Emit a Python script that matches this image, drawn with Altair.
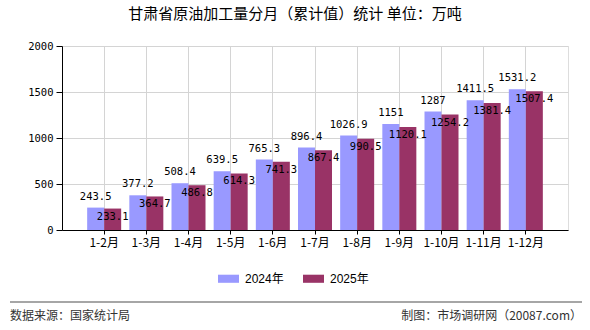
import altair as alt
import pandas as pd

months = ["1-2月", "1-3月", "1-4月", "1-5月", "1-6月", "1-7月", "1-8月", "1-9月", "1-10月", "1-11月", "1-12月"]
v2024 = [243.5, 377.2, 508.4, 639.5, 765.3, 896.4, 1026.9, 1151, 1287, 1411.5, 1531.2]
v2025 = [233.1, 364.7, 486.8, 614.3, 741.3, 867.4, 990.5, 1120.1, 1254.2, 1381.4, 1507.4]
series = ["2024年", "2025年"]
colors = ["#9999FF", "#993366"]
title_text = "甘肃省原油加工量分月（累计值）统计 单位：万吨"
source_text = "数据来源：国家统计局"
credit_text = "制图：市场调研网（20087.com）"


def fmt(v):
    s = f"{v}"
    return s[:-2] if s.endswith(".0") else s


rows = []
for m, a, b in zip(months, v2024, v2025):
    rows.append({"month": m, "series": series[0], "value": a, "label": fmt(a)})
    rows.append({"month": m, "series": series[1], "value": b, "label": fmt(b)})
df = pd.DataFrame(rows)

NUMFONT = "DejaVu Sans Mono"
CJK = "Noto Sans CJK SC"

x_enc = alt.X(
    "month:N",
    sort=months,
    scale=alt.Scale(paddingInner=0, paddingOuter=0.5),
    axis=alt.Axis(
        title=None,
        labelAngle=0,
        bandPosition=0.5,
        grid=True,
        gridColor="#d4d4d4",
        domainColor="#000000",
        tickColor="#000000",
        tickSize=4,
        labelPadding=3,
        labelFont=CJK,
        labelFontSize=12,
        labelColor="#000000",
    ),
)
xoff = alt.XOffset("series:N", sort=series, scale=alt.Scale(paddingInner=0, paddingOuter=0.24))
y_enc = alt.Y(
    "value:Q",
    scale=alt.Scale(domain=[0, 2000], nice=False),
    axis=alt.Axis(
        title=None,
        values=[0, 500, 1000, 1500, 2000],
        format="d",
        grid=True,
        gridColor="#d4d4d4",
        domainColor="#000000",
        tickColor="#000000",
        tickSize=6,
        labelPadding=3,
        labelFont=NUMFONT,
        labelFontSize=10.5,
        labelColor="#000000",
    ),
)

base = alt.Chart(df)

bars = base.mark_bar().encode(
    x=x_enc,
    xOffset=xoff,
    y=y_enc,
    color=alt.Color(
        "series:N",
        sort=series,
        scale=alt.Scale(domain=series, range=colors),
        legend=alt.Legend(
            title=None,
            orient="none",
            legendX=158,
            legendY=224,
            direction="horizontal",
            symbolType="M-1.3,-0.5L1.3,-0.5L1.3,0.5L-1.3,0.5Z",
            symbolSize=262,
            symbolStrokeWidth=0,
            columnPadding=18,
            labelFont="Liberation Sans, Noto Sans CJK SC",
            labelFontSize=12,
            labelColor="#000000",
            labelOffset=8,
        ),
    ),
)

lab24 = base.transform_filter(alt.datum.series == series[0]).mark_text(
    font=NUMFONT, fontSize=10.5, color="#000000", baseline="bottom", dy=-6
).encode(x=alt.X("month:N", sort=months), xOffset=alt.XOffset("series:N", sort=series), y="value:Q", text="label:N")

lab25 = base.transform_filter(alt.datum.series == series[1]).mark_text(
    font=NUMFONT, fontSize=10.5, color="#000000", baseline="top", dy=3
).encode(x=alt.X("month:N", sort=months), xOffset=alt.XOffset("series:N", sort=series), y="value:Q", text="label:N")

foot = pd.DataFrame({"src": [source_text], "cred": [credit_text]})
divider = alt.Chart(foot).mark_rule(color="#888888", strokeWidth=1.5).encode(
    x=alt.value(-52), x2=alt.value(520), y=alt.value(256)
)
src = alt.Chart(foot).mark_text(align="left", baseline="middle", font=CJK, fontSize=12, color="#333333").encode(
    x=alt.value(-52), y=alt.value(270), text="src:N"
)
cred = alt.Chart(foot).mark_text(align="right", baseline="middle", font=CJK, fontSize=12, color="#333333").encode(
    x=alt.value(520), y=alt.value(270), text="cred:N"
)

chart = (
    alt.layer(bars, lab24, lab25, divider, src, cred)
    .resolve_scale(x="shared")
    .properties(
        width=506,
        height=184,
        autosize=alt.AutoSizeParams(type="none"),
        padding={"left": 62, "top": 46, "right": 22, "bottom": 100},
        title=alt.TitleParams(
            title_text,
            anchor="middle",
            font=CJK,
            fontSize=15,
            fontWeight="normal",
            color="#000000",
            offset=19,
            dx=-20,
        ),
    )
    .configure_view(stroke="#d4d4d4")
    .configure(background="white")
)

chart.save("out.html", embed_options={"renderer": "svg", "actions": False})
